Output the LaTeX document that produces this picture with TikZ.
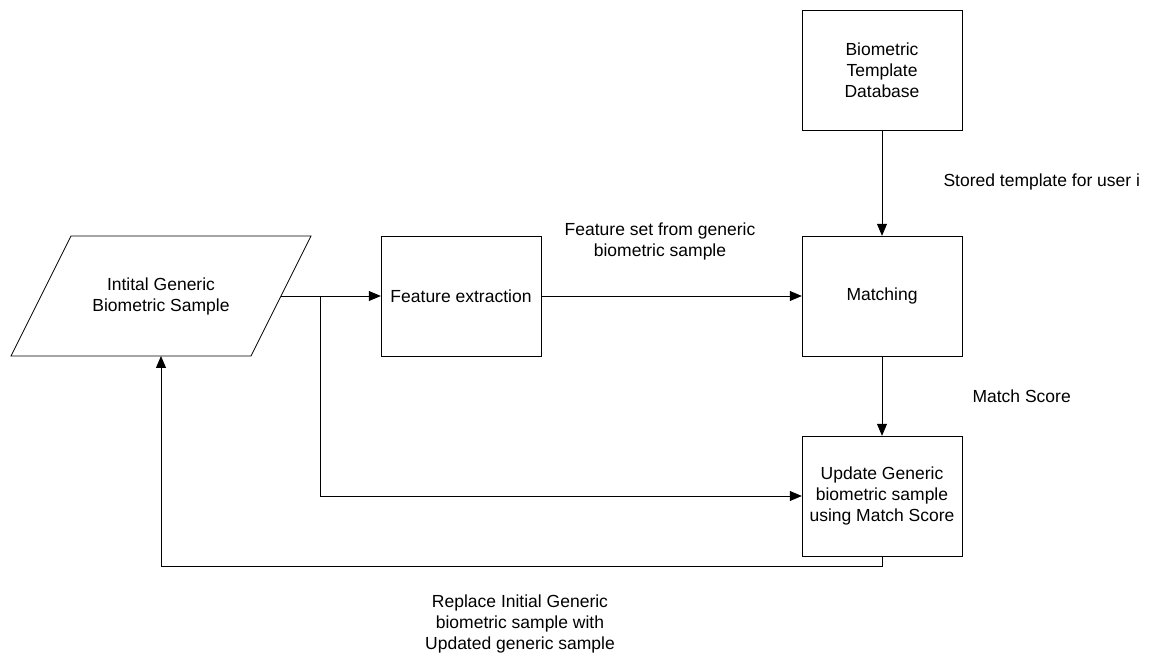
\documentclass[tikz,border=0pt]{standalone}
\usepackage{fontspec}
\setmainfont{Liberation Sans}
\usetikzlibrary{arrows.meta}
\begin{document}
\begin{tikzpicture}[x = 1pt, y = -1pt,
		every node/.style = {font = \fontsize{17.5}{21}\selectfont, align = center},
		block/.style = {draw, rectangle, minimum width = 160pt, minimum height = 120pt, inner sep = 0pt},
		flow/.style = {line width = 0.8pt, -{Triangle[length = 12pt, width = 10pt]}},
		link/.style = {line width = 0.8pt}]
		\useasboundingbox (0,0) rectangle (1149,660);
		% input parallelogram
		\draw [link] (11,356) -- (71,236) -- (311,236) -- (251,356) -- cycle;
		\node (sample) at (161,296) {Intital Generic\\Biometric Sample};
		\coordinate (sampleout) at (281,296);
		\coordinate (samplein) at (161,356);
		\node [block] (feature) at (461,296) {Feature extraction};
		\node [block] (matching) at (882,296) {Matching};
		\node [block] (database) at (882,70) {Biometric\\Template\\Database};
		\node [block] (update) at (882,496) {Update Generic\\biometric sample\\using Match Score};
		\coordinate (split) at (320,296);
		\draw [flow] (sampleout) -- (feature.west);
		\draw [flow] (split) |- (update.west);
		\draw [flow] (feature.east) -- (matching.west);
		\draw [flow] (database.south) -- (matching.north);
		\draw [flow] (matching.south) -- (update.north);
		\draw [flow] (update.south) -- ++(0,10) -| (samplein);
		\node (featurelabel) at (660,241) {Feature set from generic\\biometric sample};
		\node [anchor = west] (storedlabel) at (940,182) {Stored template for user i};
		\node [anchor = west] (scorelabel) at (969,396) {Match Score};
		\node (replacelabel) at (520,624) {Replace Initial Generic\\biometric sample with\\Updated generic sample};
	\end{tikzpicture}
\end{document}
